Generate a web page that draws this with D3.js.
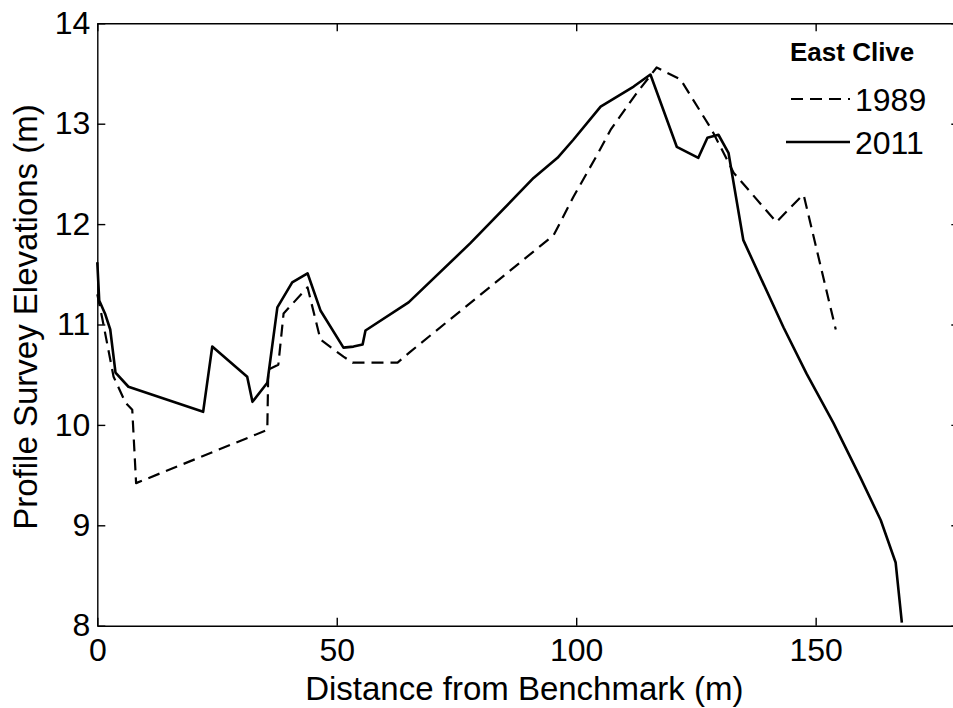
<!DOCTYPE html>
<html>
<head>
<meta charset="utf-8">
<script src="https://cdn.jsdelivr.net/npm/d3@7"></script>
<style>
body { margin: 0; background: #fff; }
svg { display: block; font-family: Arial, "Liberation Sans", sans-serif; }
</style>
</head>
<body>
<script>
// profile survey, East Clive: 1989 vs 2011

const xTicks = [0, 50, 100, 150];
const yTicks = [8, 9, 10, 11, 12, 13, 14];

const dist1989 = [0, 1.0, 3.4, 5.9, 7.3, 8.1, 35.5, 35.7, 37.8, 38.9, 43.9, 46.6, 51.4, 53.3, 62.7, 65.4, 95.3, 99.4, 104.5, 107.2, 112.4, 116.8, 121.8, 128.3, 132.9, 141.8, 146.9, 147.5, 154.2];
const elev1989 = [11.3, 11.07, 10.48, 10.22, 10.15, 9.42, 9.95, 10.55, 10.6, 11.11, 11.37, 10.85, 10.68, 10.62, 10.62, 10.73, 11.89, 12.27, 12.7, 12.94, 13.29, 13.56, 13.44, 12.94, 12.51, 12.02, 12.27, 12.29, 10.95];

const dist2011 = [0, 0.4, 1.6, 2.7, 3.8, 6.5, 22.1, 24.0, 31.3, 32.4, 35.5, 37.6, 40.7, 43.9, 46.6, 51.4, 53.5, 55.4, 56.0, 65.0, 77.9, 91.1, 96.1, 99.4, 105.1, 112.0, 115.5, 121.0, 125.5, 127.4, 129.7, 131.8, 134.9, 143.3, 148.1, 153.7, 159.4, 163.6, 166.7, 168.0];
const elev2011 = [11.62, 11.24, 11.11, 10.95, 10.52, 10.38, 10.13, 10.78, 10.48, 10.23, 10.42, 11.17, 11.42, 11.51, 11.14, 10.77, 10.78, 10.8, 10.94, 11.22, 11.81, 12.46, 12.66, 12.84, 13.17, 13.37, 13.49, 12.77, 12.66, 12.86, 12.89, 12.71, 11.84, 10.97, 10.51, 10.02, 9.47, 9.05, 8.63, 8.03];

const series = [
	{ name: "1989", x: dist1989, y: elev1989, dash: "12,7", w: 2.2 },
	{ name: "2011", x: dist2011, y: elev2011, dash: null, w: 2.6 }
];

function draw() {
const width = 953;
const height = 708;
const left = 97.3, top = 23.3, bottom = 625.7;

const svg = d3.select("body")
	.append("svg")
	.attr("width", width)
	.attr("height", height);

const x = d3.scaleLinear().domain([0, 180]).range([left, left + 180 * 4.789]);
const y = d3.scaleLinear().domain([8, 14]).range([bottom, top]);
const fmt = d3.format("d");

// axes, ticks pointing inside
svg.append("g")
	.attr("transform", "translate(0," + bottom + ")")
	.call(d3.axisBottom(x).tickValues(xTicks).tickFormat(fmt).tickSizeInner(-8).tickSizeOuter(0).tickPadding(12.5));
svg.append("g")
	.attr("transform", "translate(" + left + ",0)")
	.call(d3.axisLeft(y).tickValues(yTicks).tickFormat(fmt).tickSizeInner(-8).tickSizeOuter(0).tickPadding(7));
svg.append("g")
	.attr("transform", "translate(0," + top + ")")
	.call(d3.axisTop(x).tickValues(xTicks).tickSizeInner(-8).tickSizeOuter(0).tickFormat(""));
svg.append("g")
	.attr("transform", "translate(" + x(180) + ",0)")
	.call(d3.axisRight(y).tickValues(yTicks).tickSizeInner(-8).tickSizeOuter(0).tickFormat(""));

svg.selectAll(".domain, .tick line").attr("stroke", "#000").attr("stroke-width", 1.4);
svg.selectAll(".tick text").attr("fill", "#000").style("font-size", "32px").style("font-family", "Arial, 'Liberation Sans', sans-serif");

// axis titles
svg.append("text")
	.attr("x", (x(0) + x(180)) / 2 - 4)
	.attr("y", 700)
	.attr("text-anchor", "middle")
	.style("font-size", "33px")
	.text("Distance from Benchmark (m)");
svg.append("text")
	.attr("transform", "translate(37,317) rotate(-90)")
	.attr("text-anchor", "middle")
	.style("font-size", "33px")
	.text("Profile Survey Elevations (m)");

const line = d3.line()
	.x(function(d) { return x(d[0]); })
	.y(function(d) { return y(d[1]); });

svg.selectAll(".series")
	.data(series)
	.enter()
	.append("path")
	.attr("class", "series")
	.attr("fill", "none")
	.attr("stroke", "#000")
	.attr("stroke-width", function(d) { return d.w; })
	.attr("stroke-dasharray", function(d) { return d.dash; })
	.attr("stroke-linejoin", "round")
	.attr("d", function(d) { return line(d.x.map(function(v, i) { return [v, d.y[i]]; })); });

// legend
const lg = svg.append("g");
lg.append("text")
	.attr("x", 790)
	.attr("y", 61)
	.style("font-size", "26px")
	.style("font-weight", "bold")
	.text("East Clive");
lg.selectAll(".item")
	.data(series)
	.enter()
	.append("g")
	.attr("class", "item")
	.attr("transform", function(d, i) { return "translate(0," + (99 + i * 43) + ")"; })
	.each(function(d) {
		const g = d3.select(this);
		g.append("line")
			.attr("x1", d.dash ? 791 : 786).attr("x2", 850)
			.attr("stroke", "#000")
			.attr("stroke-width", d.w)
			.attr("stroke-dasharray", d.dash);
		g.append("text")
			.attr("x", 855)
			.attr("y", 11.5)
			.style("font-size", "32px")
			.text(d.name);
	});
}
window.onload = draw;
</script>
</body>
</html>
